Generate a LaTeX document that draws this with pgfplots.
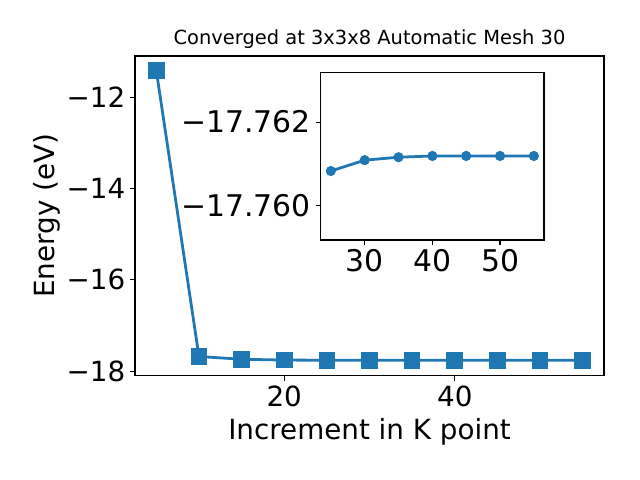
\documentclass[border=0pt]{standalone}
\usepackage{pgfplots}
\pgfplotsset{compat=1.18}
\usepackage{fontspec}
\setmainfont{DejaVu Sans}
\definecolor{c0}{HTML}{1F77B4}
\begin{document}
\begin{tikzpicture}
\path[use as bounding box] (0,0) rectangle (460.8pt,345.6pt);
\begin{axis}[
  at={(97.2pt,75.1pt)}, anchor=south west,
  scale only axis, width=337.7pt, height=230.2pt,
  xmin=2.5, xmax=57.5, ymin=-18.1, ymax=-11.1,
  xtick={20,40}, ytick={-18,-16,-14,-12},
  yticklabels={−18,−16,−14,−12},
  tick align=outside, major tick length=3.5pt,
  xtick pos=bottom, ytick pos=left,
  tick style={black, line width=0.8pt},
  axis line style={line width=0.8pt},
  ticklabel style={font=\fontsize{20}{24}\selectfont},
  /pgf/number format/assume math mode=true,
  xlabel={Increment in K point}, ylabel={Energy (eV)},
  label style={font=\fontsize{20}{24}\selectfont},
  xlabel style={yshift=-2pt},
  ylabel style={yshift=-2pt},
  title={Converged at 3x3x8 Automatic Mesh 30},
  title style={font=\fontsize{14}{17}\selectfont, yshift=-4pt},
]
\addplot[c0, line width=2pt, mark=square*, mark size=5pt, mark options={solid, fill=c0, draw=c0}] coordinates {
(5,-11.42) (10,-17.68) (15,-17.74) (20,-17.758) (25,-17.7608) (30,-17.7611)
(35,-17.7612) (40,-17.7612) (45,-17.7612) (50,-17.7612) (55,-17.7612)
};
\end{axis}
\begin{axis}[
  at={(230.9pt,172.8pt)}, anchor=south west,
  scale only axis, width=160.8pt, height=120.7pt,
  xmin=23.5, xmax=56.5, ymin=-17.76319, ymax=-17.75918,
  y dir=reverse,
  xtick={30,40,50}, ytick={-17.762,-17.760},
  yticklabels={−17.762,−17.760},
  tick align=outside, major tick length=3.5pt,
  xtick pos=bottom, ytick pos=left,
  tick style={black, line width=0.8pt},
  axis line style={line width=0.8pt},
  axis background/.style={fill=white},
  ticklabel style={font=\fontsize{21.5}{26}\selectfont},
  /pgf/number format/assume math mode=true,
  scaled y ticks=false,
]
\addplot[c0, line width=2pt, mark=*, mark size=2.6pt, mark options={solid, fill=c0, draw=c0}] coordinates {
(25,-17.76083) (30,-17.76109) (35,-17.76116) (40,-17.76119) (45,-17.76119) (50,-17.76119) (55,-17.76119)
};
\end{axis}
\end{tikzpicture}
\end{document}
